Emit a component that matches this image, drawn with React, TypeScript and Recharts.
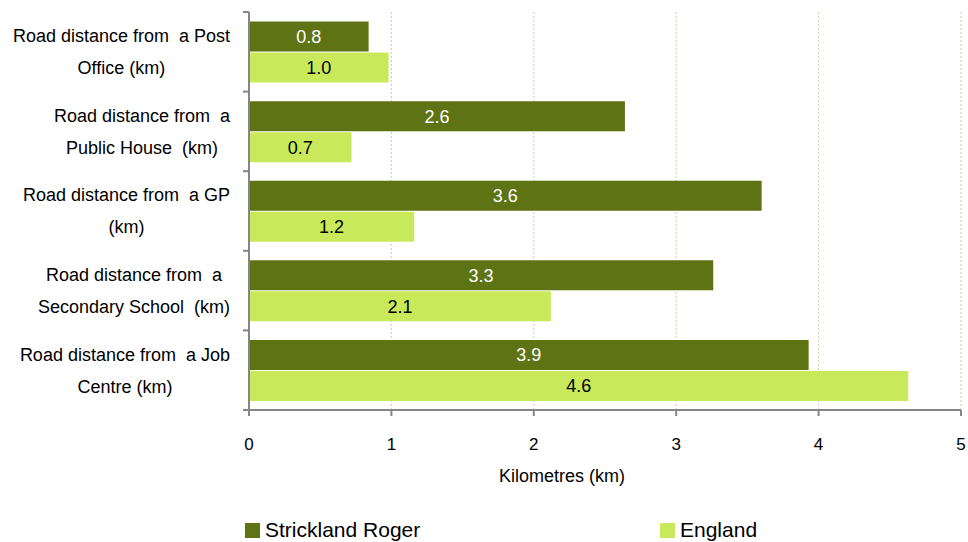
import React from "react";
import { BarChart, Bar, XAxis, YAxis, CartesianGrid, Legend, LabelList, Label } from "recharts";

// categories, two lines each (break at \n)
const categories = [
	"Road distance from  a Post\nOffice (km)",
	"Road distance from  a\nPublic House  (km)",
	"Road distance from  a GP\n(km)",
	"Road distance from  a\nSecondary School  (km)",
	"Road distance from  a Job\nCentre (km)",
];
const stricklandValues = [0.84, 2.64, 3.6, 3.26, 3.93];
const englandValues = [0.98, 0.72, 1.16, 2.12, 4.63];
const xTicks = [0, 1, 2, 3, 4, 5];
const seriesNames = ["Strickland Roger", "England"];

const data = categories.map((name, i) => ({
	name,
	strickland: stricklandValues[i],
	england: englandValues[i],
}));

const FONT = "'Liberation Sans', Arial, sans-serif";
const DARK = "#5e7314";
const LIGHT = "#c8e95a";
const AXIS = "#868686";
const AXIS_X = 249;

let ctx: CanvasRenderingContext2D | null = null;
function measure(text: string, size: number) {
	if (!ctx) ctx = document.createElement("canvas").getContext("2d");
	if (!ctx) return text.length * size * 0.5;
	ctx.font = `${size}px ${FONT}`;
	return ctx.measureText(text).width;
}

const YTick = (props: any) => {
	const { y, payload, index } = props;
	const half = payload.offset || 39.8;
	const lines = String(payload.value).split("\n");
	const widest = Math.max(...lines.map((l) => measure(l, 18)));
	const cx = 230 - widest / 2;
	return (
		<g>
			<line x1={AXIS_X - 6} x2={AXIS_X} y1={y - half} y2={y - half} stroke={AXIS} strokeWidth={2} />
			{index === categories.length - 1 && (
				<line x1={AXIS_X - 6} x2={AXIS_X} y1={y + half} y2={y + half} stroke={AXIS} strokeWidth={2} />
			)}
			<text textAnchor="middle" fontSize={18} fill="#000" fontFamily={FONT} style={{ whiteSpace: "pre" }}>
				{lines.map((l, i) => (
					<tspan key={i} x={cx} y={y - 16 + i * 32} dy="0.35em">
						{l}
					</tspan>
				))}
			</text>
		</g>
	);
};

const legendX = [245, 660];

const LegendContent = (props: any) => {
	const items = [...(props.payload || [])].sort(
		(a: any, b: any) => seriesNames.indexOf(a.value) - seriesNames.indexOf(b.value)
	);
	return (
		<div style={{ position: "relative", height: 24, fontFamily: FONT, fontSize: 21, color: "#000" }}>
			{items.map((item: any, i: number) => (
				<div
					key={i}
					style={{ position: "absolute", left: legendX[i], top: 0, display: "flex", alignItems: "center", height: 24 }}
				>
					<span style={{ display: "inline-block", width: 15, height: 15, background: item.color, marginRight: 5 }} />
					{item.value}
				</div>
			))}
		</div>
	);
};

const fmt = (v: any) => Number(v).toFixed(1);

export default function App() {
	return (
		<div style={{ position: "absolute", left: 0, top: 0, width: 968, height: 542, background: "#fff", fontFamily: FONT }}>
			<BarChart
				width={968}
				height={542}
				data={data}
				layout="vertical"
				margin={{ top: 12, right: 7, left: 0, bottom: 62 }}
				barCategoryGap="12%"
				barGap={1}
			>
				<CartesianGrid horizontal={false} stroke="#d2cda8" strokeDasharray="2 2" />
				<XAxis
					type="number"
					domain={[0, 5]}
					ticks={xTicks}
					height={70}
					axisLine={{ stroke: AXIS, strokeWidth: 2 }}
					tickLine={{ stroke: AXIS, strokeWidth: 2 }}
					tickSize={6}
					tickMargin={22}
					tick={{ fill: "#000", fontSize: 17, fontFamily: FONT }}
				>
					<Label
						value="Kilometres (km)"
						position="insideBottom"
						offset={-2}
						dx={-43}
						style={{ fill: "#000", fontSize: 18, fontFamily: FONT }}
					/>
				</XAxis>
				<YAxis
					type="category"
					dataKey="name"
					width={AXIS_X}
					axisLine={{ stroke: AXIS, strokeWidth: 2 }}
					tickLine={false}
					tick={<YTick />}
					interval={0}
				/>
				<Legend
					verticalAlign="middle"
					align="center"
					layout="horizontal"
					content={<LegendContent />}
					wrapperStyle={{ position: "absolute", top: 518, left: 0, width: 968, height: 24 }}
				/>
				<Bar dataKey="strickland" name={seriesNames[0]} fill={DARK} isAnimationActive={false}>
					<LabelList dataKey="strickland" position="center" formatter={fmt} fill="#fff" fontSize={18} fontFamily={FONT} />
				</Bar>
				<Bar dataKey="england" name={seriesNames[1]} fill={LIGHT} isAnimationActive={false}>
					<LabelList dataKey="england" position="center" formatter={fmt} fill="#000" fontSize={18} fontFamily={FONT} />
				</Bar>
			</BarChart>
		</div>
	);
}
